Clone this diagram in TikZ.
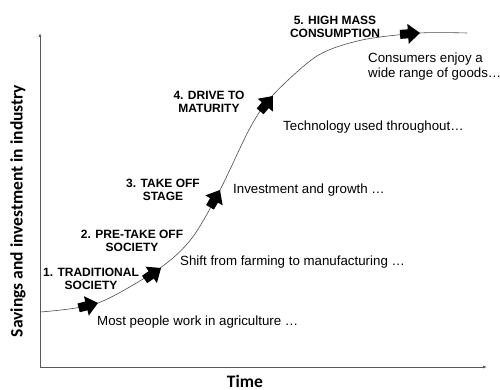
\documentclass[tikz,border=0pt]{standalone}
\usepackage{fontspec}
\setmainfont{Liberation Sans}
\newfontfamily\carl{Carlito}
\usetikzlibrary{arrows.meta}
\begin{document}
\begin{tikzpicture}[x=1pt,y=-1pt,
  axis/.style={draw=black!65, line width=0.8pt, -{Latex[length=4pt,width=3pt]}},
  stagelbl/.style={font=\fontsize{12}{13.5}\selectfont\bfseries, align=center, inner sep=0pt},
  desc/.style={font=\fontsize{13.3}{15}\selectfont, align=left, inner sep=0pt, anchor=west},
  blockarr/.pic={\fill[black] (0,0) -- (-12,-10) -- (-12,-4.5) -- (-20,-4.5) -- (-20,4.5) -- (-12,4.5) -- (-12,10) -- cycle;},
  axislbl/.style={font=\carl\fontsize{17.5}{19}\selectfont\bfseries, inner sep=0pt}
]
\useasboundingbox (0,0) rectangle (500,390);
\coordinate (o) at (40,367);
\coordinate (ytop) at (40,33);
\coordinate (xend) at (487,367);
\draw[axis] (o) -- (ytop);
\draw[axis] (o) -- (xend);
\node[axislbl, rotate=90] (ylab) at (18,211) {Savings and investment in industry};
\node[axislbl] (xlab) at (245,381) {Time};
% curve
\draw[black!70, line width=0.6pt] plot[smooth, tension=0.5] coordinates {(40,312) (98,303) (160,268) (192,238) (220,190) (250,128) (272,96) (317,56) (362,40) (420,33) (467,33)};
% arrows
\pic[rotate=14] (a1) at (98,303) {blockarr};
\pic[rotate=35] (a2) at (161,268) {blockarr};
\pic[rotate=60] (a3) at (220,190) {blockarr};
\pic[rotate=50] (a4) at (273,96) {blockarr};
\pic[rotate=4] (a5) at (420,33) {blockarr};
% stage labels
\node[stagelbl] (s1) at (91,279) {1. TRADITIONAL\\SOCIETY};
\node[stagelbl] (s2) at (132,241) {2. PRE-TAKE OFF\\SOCIETY};
\node[stagelbl] (s3) at (163,190) {3. TAKE OFF\\STAGE};
\node[stagelbl] (s4) at (209,102) {4. DRIVE TO\\MATURITY};
\node[stagelbl] (s5) at (335,27) {5. HIGH MASS\\CONSUMPTION};
% descriptions
\node[desc] (d1) at (97,322) {Most people work in agriculture …};
\node[desc] (d2) at (180,262) {Shift from farming to manufacturing …};
\node[desc] (d3) at (233,190) {Investment and growth …};
\node[desc] (d4) at (283,127) {Technology used throughout…};
\node[desc] (d5) at (368,67) {Consumers enjoy a\\wide range of goods…};
\end{tikzpicture}
\end{document}
